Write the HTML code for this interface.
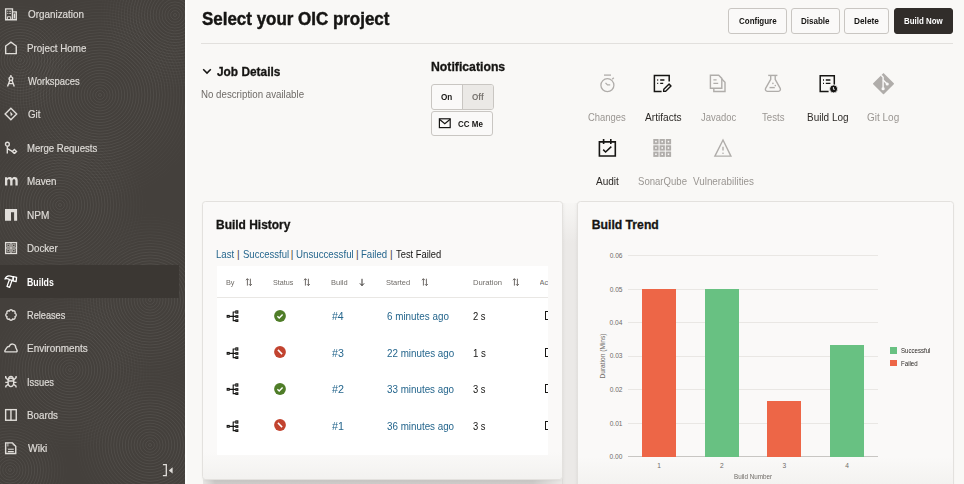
<!DOCTYPE html>
<html><head><meta charset="utf-8"><style>
*{margin:0;padding:0;box-sizing:border-box}
html,body{width:964px;height:484px;overflow:hidden;background:#f9f8f6;font-family:"Liberation Sans", sans-serif}
.t{position:absolute;white-space:nowrap;transform-origin:0 0}
.side{position:absolute;left:0;top:0;width:185px;height:484px;background:#44403c;overflow:hidden}
.btn{position:absolute;border:1px solid #c9c6c2;border-radius:3px;background:#faf9f8}
.card{position:absolute;background:#faf9f8;border:1px solid #e3e1de;border-radius:3.5px;box-shadow:0 1px 2px rgba(0,0,0,0.04)}
</style></head><body>
<div class="side"><svg width="185" height="484" style="position:absolute;left:0;top:0" fill="none" stroke="#ffffff" stroke-opacity="0.085" stroke-width="0.8"><defs><radialGradient id="fg"><stop offset="0.5" stop-color="#fff"/><stop offset="1" stop-color="#000"/></radialGradient><mask id="m0" maskUnits="userSpaceOnUse" x="-10" y="-15" width="220" height="220"><circle cx="100" cy="95" r="110" fill="url(#fg)"/></mask><mask id="m1" maskUnits="userSpaceOnUse" x="95" y="-65" width="160" height="160"><circle cx="175" cy="15" r="80" fill="url(#fg)"/></mask><mask id="m2" maskUnits="userSpaceOnUse" x="-30" y="115" width="180" height="180"><circle cx="60" cy="205" r="90" fill="url(#fg)"/></mask><mask id="m3" maskUnits="userSpaceOnUse" x="60" y="210" width="180" height="180"><circle cx="150" cy="300" r="90" fill="url(#fg)"/></mask><mask id="m4" maskUnits="userSpaceOnUse" x="-15" y="285" width="170" height="170"><circle cx="70" cy="370" r="85" fill="url(#fg)"/></mask><mask id="m5" maskUnits="userSpaceOnUse" x="70" y="365" width="160" height="160"><circle cx="150" cy="445" r="80" fill="url(#fg)"/></mask><mask id="m6" maskUnits="userSpaceOnUse" x="-50" y="410" width="120" height="120"><circle cx="10" cy="470" r="60" fill="url(#fg)"/></mask><mask id="m7" maskUnits="userSpaceOnUse" x="-40" y="0" width="120" height="120"><circle cx="20" cy="60" r="60" fill="url(#fg)"/></mask></defs><g mask="url(#m0)"><circle cx="100" cy="95" r="1.5"/><circle cx="100" cy="95" r="4.4"/><circle cx="100" cy="95" r="7.3"/><circle cx="100" cy="95" r="10.2"/><circle cx="100" cy="95" r="13.1"/><circle cx="100" cy="95" r="16.0"/><circle cx="100" cy="95" r="18.9"/><circle cx="100" cy="95" r="21.8"/><circle cx="100" cy="95" r="24.7"/><circle cx="100" cy="95" r="27.6"/><circle cx="100" cy="95" r="30.5"/><circle cx="100" cy="95" r="33.4"/><circle cx="100" cy="95" r="36.3"/><circle cx="100" cy="95" r="39.2"/><circle cx="100" cy="95" r="42.1"/><circle cx="100" cy="95" r="45.0"/><circle cx="100" cy="95" r="47.9"/><circle cx="100" cy="95" r="50.8"/><circle cx="100" cy="95" r="53.7"/><circle cx="100" cy="95" r="56.6"/><circle cx="100" cy="95" r="59.5"/><circle cx="100" cy="95" r="62.4"/><circle cx="100" cy="95" r="65.3"/><circle cx="100" cy="95" r="68.2"/><circle cx="100" cy="95" r="71.1"/><circle cx="100" cy="95" r="74.0"/><circle cx="100" cy="95" r="76.9"/><circle cx="100" cy="95" r="79.8"/><circle cx="100" cy="95" r="82.7"/><circle cx="100" cy="95" r="85.6"/><circle cx="100" cy="95" r="88.5"/><circle cx="100" cy="95" r="91.4"/><circle cx="100" cy="95" r="94.3"/><circle cx="100" cy="95" r="97.2"/><circle cx="100" cy="95" r="100.1"/><circle cx="100" cy="95" r="103.0"/><circle cx="100" cy="95" r="105.9"/></g><g mask="url(#m1)"><circle cx="175" cy="15" r="1.5"/><circle cx="175" cy="15" r="4.4"/><circle cx="175" cy="15" r="7.3"/><circle cx="175" cy="15" r="10.2"/><circle cx="175" cy="15" r="13.1"/><circle cx="175" cy="15" r="16.0"/><circle cx="175" cy="15" r="18.9"/><circle cx="175" cy="15" r="21.8"/><circle cx="175" cy="15" r="24.7"/><circle cx="175" cy="15" r="27.6"/><circle cx="175" cy="15" r="30.5"/><circle cx="175" cy="15" r="33.4"/><circle cx="175" cy="15" r="36.3"/><circle cx="175" cy="15" r="39.2"/><circle cx="175" cy="15" r="42.1"/><circle cx="175" cy="15" r="45.0"/><circle cx="175" cy="15" r="47.9"/><circle cx="175" cy="15" r="50.8"/><circle cx="175" cy="15" r="53.7"/><circle cx="175" cy="15" r="56.6"/><circle cx="175" cy="15" r="59.5"/><circle cx="175" cy="15" r="62.4"/><circle cx="175" cy="15" r="65.3"/><circle cx="175" cy="15" r="68.2"/><circle cx="175" cy="15" r="71.1"/><circle cx="175" cy="15" r="74.0"/><circle cx="175" cy="15" r="76.9"/></g><g mask="url(#m2)"><circle cx="60" cy="205" r="1.5"/><circle cx="60" cy="205" r="4.4"/><circle cx="60" cy="205" r="7.3"/><circle cx="60" cy="205" r="10.2"/><circle cx="60" cy="205" r="13.1"/><circle cx="60" cy="205" r="16.0"/><circle cx="60" cy="205" r="18.9"/><circle cx="60" cy="205" r="21.8"/><circle cx="60" cy="205" r="24.7"/><circle cx="60" cy="205" r="27.6"/><circle cx="60" cy="205" r="30.5"/><circle cx="60" cy="205" r="33.4"/><circle cx="60" cy="205" r="36.3"/><circle cx="60" cy="205" r="39.2"/><circle cx="60" cy="205" r="42.1"/><circle cx="60" cy="205" r="45.0"/><circle cx="60" cy="205" r="47.9"/><circle cx="60" cy="205" r="50.8"/><circle cx="60" cy="205" r="53.7"/><circle cx="60" cy="205" r="56.6"/><circle cx="60" cy="205" r="59.5"/><circle cx="60" cy="205" r="62.4"/><circle cx="60" cy="205" r="65.3"/><circle cx="60" cy="205" r="68.2"/><circle cx="60" cy="205" r="71.1"/><circle cx="60" cy="205" r="74.0"/><circle cx="60" cy="205" r="76.9"/><circle cx="60" cy="205" r="79.8"/><circle cx="60" cy="205" r="82.7"/><circle cx="60" cy="205" r="85.6"/><circle cx="60" cy="205" r="88.5"/></g><g mask="url(#m3)"><circle cx="150" cy="300" r="1.5"/><circle cx="150" cy="300" r="4.4"/><circle cx="150" cy="300" r="7.3"/><circle cx="150" cy="300" r="10.2"/><circle cx="150" cy="300" r="13.1"/><circle cx="150" cy="300" r="16.0"/><circle cx="150" cy="300" r="18.9"/><circle cx="150" cy="300" r="21.8"/><circle cx="150" cy="300" r="24.7"/><circle cx="150" cy="300" r="27.6"/><circle cx="150" cy="300" r="30.5"/><circle cx="150" cy="300" r="33.4"/><circle cx="150" cy="300" r="36.3"/><circle cx="150" cy="300" r="39.2"/><circle cx="150" cy="300" r="42.1"/><circle cx="150" cy="300" r="45.0"/><circle cx="150" cy="300" r="47.9"/><circle cx="150" cy="300" r="50.8"/><circle cx="150" cy="300" r="53.7"/><circle cx="150" cy="300" r="56.6"/><circle cx="150" cy="300" r="59.5"/><circle cx="150" cy="300" r="62.4"/><circle cx="150" cy="300" r="65.3"/><circle cx="150" cy="300" r="68.2"/><circle cx="150" cy="300" r="71.1"/><circle cx="150" cy="300" r="74.0"/><circle cx="150" cy="300" r="76.9"/><circle cx="150" cy="300" r="79.8"/><circle cx="150" cy="300" r="82.7"/><circle cx="150" cy="300" r="85.6"/><circle cx="150" cy="300" r="88.5"/></g><g mask="url(#m4)"><circle cx="70" cy="370" r="1.5"/><circle cx="70" cy="370" r="4.4"/><circle cx="70" cy="370" r="7.3"/><circle cx="70" cy="370" r="10.2"/><circle cx="70" cy="370" r="13.1"/><circle cx="70" cy="370" r="16.0"/><circle cx="70" cy="370" r="18.9"/><circle cx="70" cy="370" r="21.8"/><circle cx="70" cy="370" r="24.7"/><circle cx="70" cy="370" r="27.6"/><circle cx="70" cy="370" r="30.5"/><circle cx="70" cy="370" r="33.4"/><circle cx="70" cy="370" r="36.3"/><circle cx="70" cy="370" r="39.2"/><circle cx="70" cy="370" r="42.1"/><circle cx="70" cy="370" r="45.0"/><circle cx="70" cy="370" r="47.9"/><circle cx="70" cy="370" r="50.8"/><circle cx="70" cy="370" r="53.7"/><circle cx="70" cy="370" r="56.6"/><circle cx="70" cy="370" r="59.5"/><circle cx="70" cy="370" r="62.4"/><circle cx="70" cy="370" r="65.3"/><circle cx="70" cy="370" r="68.2"/><circle cx="70" cy="370" r="71.1"/><circle cx="70" cy="370" r="74.0"/><circle cx="70" cy="370" r="76.9"/><circle cx="70" cy="370" r="79.8"/><circle cx="70" cy="370" r="82.7"/></g><g mask="url(#m5)"><circle cx="150" cy="445" r="1.5"/><circle cx="150" cy="445" r="4.4"/><circle cx="150" cy="445" r="7.3"/><circle cx="150" cy="445" r="10.2"/><circle cx="150" cy="445" r="13.1"/><circle cx="150" cy="445" r="16.0"/><circle cx="150" cy="445" r="18.9"/><circle cx="150" cy="445" r="21.8"/><circle cx="150" cy="445" r="24.7"/><circle cx="150" cy="445" r="27.6"/><circle cx="150" cy="445" r="30.5"/><circle cx="150" cy="445" r="33.4"/><circle cx="150" cy="445" r="36.3"/><circle cx="150" cy="445" r="39.2"/><circle cx="150" cy="445" r="42.1"/><circle cx="150" cy="445" r="45.0"/><circle cx="150" cy="445" r="47.9"/><circle cx="150" cy="445" r="50.8"/><circle cx="150" cy="445" r="53.7"/><circle cx="150" cy="445" r="56.6"/><circle cx="150" cy="445" r="59.5"/><circle cx="150" cy="445" r="62.4"/><circle cx="150" cy="445" r="65.3"/><circle cx="150" cy="445" r="68.2"/><circle cx="150" cy="445" r="71.1"/><circle cx="150" cy="445" r="74.0"/><circle cx="150" cy="445" r="76.9"/></g><g mask="url(#m6)"><circle cx="10" cy="470" r="1.5"/><circle cx="10" cy="470" r="4.4"/><circle cx="10" cy="470" r="7.3"/><circle cx="10" cy="470" r="10.2"/><circle cx="10" cy="470" r="13.1"/><circle cx="10" cy="470" r="16.0"/><circle cx="10" cy="470" r="18.9"/><circle cx="10" cy="470" r="21.8"/><circle cx="10" cy="470" r="24.7"/><circle cx="10" cy="470" r="27.6"/><circle cx="10" cy="470" r="30.5"/><circle cx="10" cy="470" r="33.4"/><circle cx="10" cy="470" r="36.3"/><circle cx="10" cy="470" r="39.2"/><circle cx="10" cy="470" r="42.1"/><circle cx="10" cy="470" r="45.0"/><circle cx="10" cy="470" r="47.9"/><circle cx="10" cy="470" r="50.8"/><circle cx="10" cy="470" r="53.7"/><circle cx="10" cy="470" r="56.6"/></g><g mask="url(#m7)"><circle cx="20" cy="60" r="1.5"/><circle cx="20" cy="60" r="4.4"/><circle cx="20" cy="60" r="7.3"/><circle cx="20" cy="60" r="10.2"/><circle cx="20" cy="60" r="13.1"/><circle cx="20" cy="60" r="16.0"/><circle cx="20" cy="60" r="18.9"/><circle cx="20" cy="60" r="21.8"/><circle cx="20" cy="60" r="24.7"/><circle cx="20" cy="60" r="27.6"/><circle cx="20" cy="60" r="30.5"/><circle cx="20" cy="60" r="33.4"/><circle cx="20" cy="60" r="36.3"/><circle cx="20" cy="60" r="39.2"/><circle cx="20" cy="60" r="42.1"/><circle cx="20" cy="60" r="45.0"/><circle cx="20" cy="60" r="47.9"/><circle cx="20" cy="60" r="50.8"/><circle cx="20" cy="60" r="53.7"/><circle cx="20" cy="60" r="56.6"/></g></svg></div>
<div style="position:absolute;left:185px;top:0;width:1.5px;height:484px;background:#fdfdfc"></div>
<div style="position:absolute;left:0;top:265px;width:179.2px;height:33px;background:#3b3733"></div>
<div style="position:absolute;left:201px;top:43px;width:752px;height:1px;background:#e2e0dd"></div>
<div class="btn" style="left:728.2px;top:8px;width:58.4px;height:25.8px"></div>
<div class="btn" style="left:791px;top:8px;width:48.5px;height:25.8px"></div>
<div class="btn" style="left:843.9px;top:8px;width:45.1px;height:25.8px"></div>
<div class="btn" style="left:893.8px;top:8px;width:59.4px;height:25.8px;background:#312d2a;border-color:#312d2a"></div>
<div class="btn" style="left:430.8px;top:83.9px;width:62.8px;height:25.9px;overflow:hidden"><div style="position:absolute;left:30.3px;top:0;right:0;bottom:0;background:#ebe9e6;border-left:1px solid #c9c6c2"></div></div>
<div class="btn" style="left:430.8px;top:110.6px;width:61.9px;height:25.8px"></div>
<div style="position:absolute;left:562px;top:203px;width:16px;height:281px;background:linear-gradient(to bottom,#f7f6f4 0px,#ebe9e7 40px,#ebe9e7 100%)"></div>
<div style="position:absolute;left:562px;top:203px;width:16px;height:281px;background:linear-gradient(to right,rgba(0,0,0,0.03),rgba(0,0,0,0) 4px,rgba(0,0,0,0) 12px,rgba(0,0,0,0.03))"></div>
<div style="position:absolute;left:203px;top:478px;width:360px;height:6px;background:linear-gradient(to bottom,#dddbd9,#cac8c6 3px,#cccac8);-webkit-mask-image:linear-gradient(to right,rgba(0,0,0,0.4) 0,#000 12px,#000 330px,rgba(0,0,0,0.3) 360px);mask-image:linear-gradient(to right,rgba(0,0,0,0.4) 0,#000 12px,#000 330px,rgba(0,0,0,0.3) 360px)"></div>
<div class="card" style="left:202px;top:201px;width:361px;height:279px;background:linear-gradient(to bottom,#faf9f8 0,#faf9f8 250px,#f3f2f0 276px)"></div>
<div class="card" style="left:577px;top:201px;width:377px;height:300px;background:linear-gradient(to bottom,#faf9f8 0,#faf9f8 255px,#f3f2f0 283px)"></div>
<div style="position:absolute;left:217px;top:266.2px;width:331.2px;height:189px;background:#fff"></div>
<div style="position:absolute;left:217px;top:296.5px;width:331.2px;height:1px;background:#e9e7e4"></div>
<div style="position:absolute;left:628px;top:255.1px;width:250px;height:1px;background:#e9e7e4"></div>
<div style="position:absolute;left:628px;top:288.6px;width:250px;height:1px;background:#e9e7e4"></div>
<div style="position:absolute;left:628px;top:322.1px;width:250px;height:1px;background:#e9e7e4"></div>
<div style="position:absolute;left:628px;top:355.6px;width:250px;height:1px;background:#e9e7e4"></div>
<div style="position:absolute;left:628px;top:389.1px;width:250px;height:1px;background:#e9e7e4"></div>
<div style="position:absolute;left:628px;top:422.6px;width:250px;height:1px;background:#e9e7e4"></div>
<div style="position:absolute;left:628px;top:456.1px;width:250px;height:1px;background:#c8c6c3"></div>
<div style="position:absolute;left:642.0px;top:289.1px;width:34.3px;height:167.5px;background:#ed6647"></div>
<div style="position:absolute;left:704.6px;top:289.1px;width:34.3px;height:167.5px;background:#68c182"></div>
<div style="position:absolute;left:767.2px;top:400.8px;width:34.3px;height:55.8px;background:#ed6647"></div>
<div style="position:absolute;left:829.8px;top:344.9px;width:34.3px;height:111.7px;background:#68c182"></div>
<div style="position:absolute;left:890.2px;top:347.3px;width:7px;height:6.7px;background:#68c182"></div>
<div style="position:absolute;left:890.2px;top:359.5px;width:7px;height:6.7px;background:#ed6647"></div>
<div class="t" style="left:602.5px;top:356px;font-size:6.6px;line-height:6.6px;color:#6f6b67;transform:translate(-50%,-50%) rotate(-90deg);transform-origin:center">Duration (Mins)</div>
<svg style="position:absolute;left:4px;top:7px;" width="14" height="14" viewBox="0 0 14 14"><g fill="none" stroke="#e0ddd9" stroke-width="1.4"><path d="M1.65 12.8V1.9h6.8v10.9M8.45 4.9h3.8v7.9M1 12.8h12"/><path d="M3.3 4.3h1M5.3 4.3h1.6M3.3 6.4h1M5.3 6.4h1.6M3.4 12.5v-2.7h3.3v2.7" stroke-width="1"/><path d="M10.4 6.5v5"/></g></svg>
<svg style="position:absolute;left:4px;top:41px;" width="14" height="14" viewBox="0 0 14 14"><path fill="none" stroke="#e0ddd9" stroke-width="1.4" d="M1.65 12.6V5.0L6.95 1.2L12.25 5.0V12.6Z"/></svg>
<svg style="position:absolute;left:4px;top:74px;" width="14" height="14" viewBox="0 0 14 14"><g fill="none" stroke="#e0ddd9" stroke-width="1.4"><circle cx="6.9" cy="4.7" r="1.8"/><path d="M6.9 1.0v1.9M5.9 6.3L3.5 12.4M7.9 6.3L10.3 12.4M4.6 9.6h4.6"/></g></svg>
<svg style="position:absolute;left:4px;top:107.4px;" width="14" height="14" viewBox="0 0 14 14"><g fill="none" stroke="#e0ddd9" stroke-width="1.4"><path d="M6.9 1.2L12.7 7L6.9 12.8L1.1 7Z"/></g><path d="M6.2 4.6L8.8 7.2L6.8 9.2Z" fill="#e0ddd9"/></svg>
<svg style="position:absolute;left:4px;top:140px;" width="14" height="14" viewBox="0 0 14 14"><g fill="none" stroke="#e0ddd9" stroke-width="1.4"><circle cx="3.4" cy="4.2" r="1.9"/><path d="M3.3 6.1V13.6M3.8 8.8L8.3 11.3"/><path d="M10.4 9.4L12.5 11.5L10.4 13.6L8.3 11.5Z"/></g></svg>
<svg style="position:absolute;left:4px;top:175px;" width="14" height="12" viewBox="0 0 14 12"><path fill="#e0ddd9" d="M1.0 10.4V2.3h2.2v1.0c0.6-0.8 1.5-1.2 2.5-1.2c1.1 0 1.9 0.5 2.3 1.3c0.6-0.9 1.6-1.3 2.7-1.3c1.9 0 3.0 1.2 3.0 3.3v5.0h-2.3V5.9c0-1.1-0.5-1.7-1.4-1.7c-0.9 0-1.5 0.6-1.5 1.7v4.5H6.2V5.9c0-1.1-0.5-1.7-1.4-1.7c-0.9 0-1.5 0.6-1.5 1.7v4.5Z"/></svg>
<svg style="position:absolute;left:4px;top:207px;" width="14" height="15" viewBox="0 0 14 15"><path fill="#e0ddd9" d="M1 1.9H13.1V13.8H10.1V5.2H7V13.8H1Z"/></svg>
<svg style="position:absolute;left:4px;top:241px;" width="14" height="14" viewBox="0 0 14 14"><g fill="none" stroke="#e0ddd9"><rect x="1.6" y="1.6" width="10.9" height="10.9" stroke-width="1.3"/><path d="M7 1.6V12.5M1.6 7H12.5" stroke-width="1.1"/><path d="M3.2 3.3h2.4v2.2H3.2zM8.5 3.3h2.4v2.2H8.5zM3.2 8.5h2.4v2.2H3.2zM8.5 8.5h2.4v2.2H8.5z" stroke-width="0.6"/></g></svg>
<svg style="position:absolute;left:4px;top:274px;" width="14" height="15" viewBox="0 0 14 15"><g fill="none" stroke="#ffffff" stroke-width="1.3" stroke-linejoin="round"><path d="M1.0 5.0C1.8 2.8 4.0 1.4 6.6 2.1L9.3 2.8L9.0 6.6L7.9 6.4L5.6 5.6C4.0 4.6 2.4 4.5 1.0 5.0Z"/><path d="M9.3 2.6L12.6 3.4L12.1 7.7L9.0 6.8Z"/><path d="M5.4 5.8L3.0 12.4L5.7 13.3L7.9 6.6"/></g></svg>
<svg style="position:absolute;left:3.7px;top:307.9px;" width="14" height="14" viewBox="0 0 14 14"><path fill="none" stroke="#e0ddd9" stroke-width="1.4" stroke-linejoin="round" d="M5.35 3.03A1.7 1.7 0 0 1 8.65 3.03A1.7 1.7 0 0 1 10.97 5.35A1.7 1.7 0 0 1 10.97 8.65A1.7 1.7 0 0 1 8.65 10.97A1.7 1.7 0 0 1 5.35 10.97A1.7 1.7 0 0 1 3.03 8.65A1.7 1.7 0 0 1 3.03 5.35A1.7 1.7 0 0 1 5.35 3.03Z"/></svg>
<svg style="position:absolute;left:4px;top:341px;" width="15" height="14" viewBox="0 0 15 14"><path fill="none" stroke="#e0ddd9" stroke-width="1.4" d="M1.6 10.9C0.9 10.9 0.6 10.2 1.0 9.5L2.8 6.6C3.3 5.7 4.2 5.3 5.2 5.5C5.8 3.8 7.2 2.9 8.7 3.1C10.5 3.3 11.8 4.8 11.8 6.7L13.0 9.3C13.3 10.2 13.0 10.9 12.1 10.9Z"/></svg>
<svg style="position:absolute;left:4px;top:374px;" width="14" height="15" viewBox="0 0 14 15"><g fill="none" stroke="#e0ddd9" stroke-width="1.4"><path d="M6.9 4.0C5.3 4.0 4.1 5.2 4.1 6.8V9.2C4.1 11.0 5.4 12.6 6.9 12.6C8.4 12.6 9.7 11.0 9.7 9.2V6.8C9.7 5.2 8.5 4.0 6.9 4.0Z"/><path d="M4.6 5.3C4.6 3.5 5.6 2.4 6.9 2.4C8.2 2.4 9.2 3.5 9.2 5.3"/><path d="M1.7 2.0V3.6L4.1 6.1M12.1 2.0V3.6L9.7 6.1M1.3 8.4H4.1M12.5 8.4H9.7M1.8 13.6V12.2L4.3 10.3M12.0 13.6V12.2L9.5 10.3M4.1 7.0H9.7"/></g></svg>
<svg style="position:absolute;left:4px;top:408px;" width="14" height="14" viewBox="0 0 14 14"><g fill="none" stroke="#e0ddd9" stroke-width="1.4"><rect x="1.65" y="1.65" width="10.6" height="10.6"/><path d="M6.95 1.65V12.25"/></g></svg>
<svg style="position:absolute;left:4px;top:441px;" width="14" height="14" viewBox="0 0 14 14"><g fill="none" stroke="#e0ddd9" stroke-width="1.4"><path d="M1.65 1.85H8.4L11.75 5.2V12.45H1.65Z"/><path d="M3.9 8.3H9.8M3.9 10.6H9.8" stroke-width="1.1"/><path d="M3.9 1.85V5.5M8.1 2.5L10.9 5.3" stroke-width="0.8"/></g></svg>
<svg style="position:absolute;left:160px;top:462px;" width="16" height="16" viewBox="0 0 16 16"><path fill="none" stroke="#e0ddd9" stroke-width="1.3" d="M2.9 2.7H6.3V13.7H2.9"/><path fill="#e0ddd9" d="M8.8 8.4L12.6 5.2V11.6Z"/></svg>
<svg style="position:absolute;left:598px;top:73px;" width="20" height="20" viewBox="0 0 20 20"><g fill="none" stroke="#b0adaa" stroke-width="1.3"><path d="M6 2.1H13"/><circle cx="9.4" cy="12.2" r="6.5"/><path d="M7.5 9.9L9.5 11.9H12.2"/><path d="M14.2 6.2L15.8 4.7"/></g></svg>
<svg style="position:absolute;left:652px;top:73px;" width="21" height="21" viewBox="0 0 21 21"><g fill="none" stroke="#161513" stroke-width="1.5"><path d="M9.6 18.6H2.4V2.6H17.2V8.5"/><path d="M5.2 7.0h1M8.2 7.0h4.2M5.2 10.4h1M8.2 10.4h3.0" stroke-width="1.3"/><path d="M11.6 18.4L11.8 16.3L17.1 11.0L19.0 12.9L13.7 18.2Z" stroke-width="1.4" stroke-linejoin="round"/></g></svg>
<svg style="position:absolute;left:708px;top:73px;" width="20" height="21" viewBox="0 0 20 21"><g fill="none" stroke="#b0adaa" stroke-width="1.4"><path d="M2.4 2.3H10.7L13.8 5.4V15.3H2.4Z"/><path d="M13.8 6.1L17.0 9.3V18.5H5.8V15.3"/><path d="M5.4 6.9h3.2M5.4 10.4h4.8"/></g></svg>
<svg style="position:absolute;left:763px;top:73px;" width="20" height="21" viewBox="0 0 20 21"><g fill="none" stroke="#b0adaa" stroke-width="1.4" stroke-linejoin="round"><path d="M5.2 2.4H14.4"/><path d="M7.7 2.4V6.4L2.6 15.3C2.0 16.5 2.6 18.4 4.4 18.4H15.4C17.2 18.4 17.8 16.5 17.2 15.3L12.2 6.4V2.4"/><path d="M6.5 14.6H11.8"/></g><circle cx="9.9" cy="10.4" r="0.8" fill="#b0adaa"/><circle cx="12.3" cy="12.6" r="0.8" fill="#b0adaa"/></svg>
<svg style="position:absolute;left:818px;top:73px;" width="20" height="21" viewBox="0 0 20 21"><g fill="none" stroke="#161513" stroke-width="1.5"><path d="M10.6 18.4H2.2V2.7H16.3V11.8"/><path d="M5.0 7.0h1M7.8 7.0h4.6M5.0 10.4h1M7.8 10.4h4.6" stroke-width="1.3"/></g><circle cx="15.6" cy="15.9" r="4.0" fill="#161513" stroke="#faf9f8" stroke-width="0.8"/><path d="M15.4 14.0V16.3H16.8" stroke="#fff" stroke-width="0.9" fill="none"/></svg>
<svg style="position:absolute;left:872px;top:72px;" width="23" height="23" viewBox="0 0 23 23"><path fill="#b0adaa" d="M11.5 1.0L21.8 11.3Q22.3 11.8 21.8 12.3L12.0 22.0Q11.5 22.5 11.0 22.0L1.2 12.2Q0.7 11.7 1.2 11.2Z"/><g stroke="#faf9f8" stroke-width="1.4" fill="none"><path d="M9.2 3.3L11.1 5.2V15.6"/><path d="M11.1 8.0L14.7 11.4"/></g><circle cx="11.1" cy="16.7" r="1.6" fill="#faf9f8"/><circle cx="15.2" cy="12.0" r="1.6" fill="#faf9f8"/></svg>
<svg style="position:absolute;left:597px;top:137px;" width="21" height="22" viewBox="0 0 21 22"><g fill="none" stroke="#161513" stroke-width="1.6"><path d="M2.4 4.9H18.3V19.0H2.4Z"/><path d="M6.6 2.0V6.9M13.8 2.0V6.9"/><path d="M6.2 12.6L8.6 15.0L14.3 9.6" stroke-width="1.5"/></g></svg>
<svg style="position:absolute;left:652px;top:138px;" width="21" height="21" viewBox="0 0 21 21"><rect x="1.30" y="1.00" width="5.3" height="5.3" fill="#b0adaa"/><rect x="3.15" y="2.85" width="1.6" height="1.6" fill="#fbfaf9"/><rect x="7.55" y="1.00" width="5.3" height="5.3" fill="#b0adaa"/><rect x="9.40" y="2.85" width="1.6" height="1.6" fill="#fbfaf9"/><rect x="13.80" y="1.00" width="5.3" height="5.3" fill="#b0adaa"/><rect x="15.65" y="2.85" width="1.6" height="1.6" fill="#fbfaf9"/><rect x="1.30" y="7.30" width="5.3" height="5.3" fill="#b0adaa"/><rect x="3.15" y="9.15" width="1.6" height="1.6" fill="#fbfaf9"/><rect x="7.55" y="7.30" width="5.3" height="5.3" fill="#b0adaa"/><rect x="9.40" y="9.15" width="1.6" height="1.6" fill="#fbfaf9"/><rect x="13.80" y="7.30" width="5.3" height="5.3" fill="#b0adaa"/><rect x="15.65" y="9.15" width="1.6" height="1.6" fill="#fbfaf9"/><rect x="1.30" y="13.60" width="5.3" height="5.3" fill="#b0adaa"/><rect x="3.15" y="15.45" width="1.6" height="1.6" fill="#fbfaf9"/><rect x="7.55" y="13.60" width="5.3" height="5.3" fill="#b0adaa"/><rect x="9.40" y="15.45" width="1.6" height="1.6" fill="#fbfaf9"/><rect x="13.80" y="13.60" width="5.3" height="5.3" fill="#b0adaa"/><rect x="15.65" y="15.45" width="1.6" height="1.6" fill="#fbfaf9"/></svg>
<svg style="position:absolute;left:712px;top:137px;" width="22" height="22" viewBox="0 0 22 22"><path fill="none" stroke="#b0adaa" stroke-width="1.4" stroke-linejoin="miter" d="M11.0 3.0L18.9 19.1H2.9Z"/><path d="M11 9.8V13.6" stroke="#b0adaa" stroke-width="1.4"/><circle cx="11" cy="16.3" r="0.8" fill="#b0adaa"/></svg>
<svg style="position:absolute;left:438px;top:117px;" width="14" height="13" viewBox="0 0 14 13"><g fill="none" stroke="#161513" stroke-width="1.2"><rect x="1.4" y="1.8" width="10.8" height="8.8"/><path d="M1.4 2.2L6.8 6.8L12.2 2.2"/></g></svg>
<svg style="position:absolute;left:201px;top:66px;" width="12" height="10" viewBox="0 0 12 10"><path fill="none" stroke="#161513" stroke-width="1.5" d="M2.2 3.3L6.0 7.1L9.8 3.3"/></svg>
<svg style="position:absolute;left:225.4px;top:308.0px;" width="16" height="16" viewBox="0 0 16 16"><g fill="none" stroke="#161513" stroke-width="1.15"><rect x="2.2" y="7.5" width="2.0" height="1.7"/><rect x="10.9" y="2.9" width="1.9" height="2.2"/><rect x="10.9" y="7.7" width="1.9" height="1.6"/><rect x="10.9" y="11.8" width="1.9" height="1.6"/><path d="M4.2 8.3H10.9M8.2 4.0V12.6M7.7 4.0H10.9M7.7 12.6H10.9"/></g></svg>
<svg style="position:absolute;left:274px;top:309.8px;" width="12" height="12" viewBox="0 0 12 12"><circle cx="6" cy="6" r="5.9" fill="#4f7d28"/><path d="M3.4 6.2L5.2 7.9L8.6 4.4" fill="none" stroke="#fff" stroke-width="1.4"/></svg>
<div style="position:absolute;left:544.6px;top:311.3px;width:3px;height:9px;border:1.2px solid #161513;border-right:none;box-sizing:border-box"></div>
<svg style="position:absolute;left:225.4px;top:344.5px;" width="16" height="16" viewBox="0 0 16 16"><g fill="none" stroke="#161513" stroke-width="1.15"><rect x="2.2" y="7.5" width="2.0" height="1.7"/><rect x="10.9" y="2.9" width="1.9" height="2.2"/><rect x="10.9" y="7.7" width="1.9" height="1.6"/><rect x="10.9" y="11.8" width="1.9" height="1.6"/><path d="M4.2 8.3H10.9M8.2 4.0V12.6M7.7 4.0H10.9M7.7 12.6H10.9"/></g></svg>
<svg style="position:absolute;left:274px;top:346.3px;" width="12" height="12" viewBox="0 0 12 12"><circle cx="6" cy="6" r="5.9" fill="#c2432f"/><path d="M3.9 3.9L8.1 8.1" fill="none" stroke="#fff" stroke-width="1.5"/></svg>
<div style="position:absolute;left:544.6px;top:347.8px;width:3px;height:9px;border:1.2px solid #161513;border-right:none;box-sizing:border-box"></div>
<svg style="position:absolute;left:225.4px;top:381.0px;" width="16" height="16" viewBox="0 0 16 16"><g fill="none" stroke="#161513" stroke-width="1.15"><rect x="2.2" y="7.5" width="2.0" height="1.7"/><rect x="10.9" y="2.9" width="1.9" height="2.2"/><rect x="10.9" y="7.7" width="1.9" height="1.6"/><rect x="10.9" y="11.8" width="1.9" height="1.6"/><path d="M4.2 8.3H10.9M8.2 4.0V12.6M7.7 4.0H10.9M7.7 12.6H10.9"/></g></svg>
<svg style="position:absolute;left:274px;top:382.8px;" width="12" height="12" viewBox="0 0 12 12"><circle cx="6" cy="6" r="5.9" fill="#4f7d28"/><path d="M3.4 6.2L5.2 7.9L8.6 4.4" fill="none" stroke="#fff" stroke-width="1.4"/></svg>
<div style="position:absolute;left:544.6px;top:384.3px;width:3px;height:9px;border:1.2px solid #161513;border-right:none;box-sizing:border-box"></div>
<svg style="position:absolute;left:225.4px;top:417.5px;" width="16" height="16" viewBox="0 0 16 16"><g fill="none" stroke="#161513" stroke-width="1.15"><rect x="2.2" y="7.5" width="2.0" height="1.7"/><rect x="10.9" y="2.9" width="1.9" height="2.2"/><rect x="10.9" y="7.7" width="1.9" height="1.6"/><rect x="10.9" y="11.8" width="1.9" height="1.6"/><path d="M4.2 8.3H10.9M8.2 4.0V12.6M7.7 4.0H10.9M7.7 12.6H10.9"/></g></svg>
<svg style="position:absolute;left:274px;top:419.3px;" width="12" height="12" viewBox="0 0 12 12"><circle cx="6" cy="6" r="5.9" fill="#c2432f"/><path d="M3.9 3.9L8.1 8.1" fill="none" stroke="#fff" stroke-width="1.5"/></svg>
<div style="position:absolute;left:544.6px;top:420.8px;width:3px;height:9px;border:1.2px solid #161513;border-right:none;box-sizing:border-box"></div>
<svg style="position:absolute;left:244.8px;top:276.6px;" width="8" height="10" viewBox="0 0 8 10"><path d="M2.4 8.6V1.7M0.9 3.2L2.4 1.7L3.9 3.2M5.4 1.7V8.6M3.9 7.1L5.4 8.6L6.9 7.1" fill="none" stroke="#57534f" stroke-width="0.85"/></svg>
<svg style="position:absolute;left:303.3px;top:276.6px;" width="8" height="10" viewBox="0 0 8 10"><path d="M2.4 8.6V1.7M0.9 3.2L2.4 1.7L3.9 3.2M5.4 1.7V8.6M3.9 7.1L5.4 8.6L6.9 7.1" fill="none" stroke="#57534f" stroke-width="0.85"/></svg>
<svg style="position:absolute;left:420.6px;top:276.6px;" width="8" height="10" viewBox="0 0 8 10"><path d="M2.4 8.6V1.7M0.9 3.2L2.4 1.7L3.9 3.2M5.4 1.7V8.6M3.9 7.1L5.4 8.6L6.9 7.1" fill="none" stroke="#57534f" stroke-width="0.85"/></svg>
<svg style="position:absolute;left:511.8px;top:276.6px;" width="8" height="10" viewBox="0 0 8 10"><path d="M2.4 8.6V1.7M0.9 3.2L2.4 1.7L3.9 3.2M5.4 1.7V8.6M3.9 7.1L5.4 8.6L6.9 7.1" fill="none" stroke="#57534f" stroke-width="0.85"/></svg>
<svg style="position:absolute;left:357.8px;top:276.6px;" width="8" height="10" viewBox="0 0 8 10"><path d="M4 1.8V8.6M1.9 6.4L4 8.6L6.1 6.4" fill="none" stroke="#2c2926" stroke-width="0.95"/></svg>
<div class="t" style="left:27.61px;top:9.00px;font-size:10.6px;line-height:10.6px;color:#dedbd7;transform:scaleX(0.932);-webkit-text-stroke:0.2px #dedbd7;">Organization</div>
<div class="t" style="left:27.31px;top:43.00px;font-size:10.6px;line-height:10.6px;color:#dedbd7;transform:scaleX(0.926);-webkit-text-stroke:0.2px #dedbd7;">Project Home</div>
<div class="t" style="left:28.01px;top:76.00px;font-size:10.6px;line-height:10.6px;color:#dedbd7;transform:scaleX(0.891);-webkit-text-stroke:0.2px #dedbd7;">Workspaces</div>
<div class="t" style="left:27.62px;top:109.00px;font-size:10.6px;line-height:10.6px;color:#dedbd7;transform:scaleX(0.912);-webkit-text-stroke:0.2px #dedbd7;">Git</div>
<div class="t" style="left:27.33px;top:143.00px;font-size:10.6px;line-height:10.6px;color:#dedbd7;transform:scaleX(0.904);-webkit-text-stroke:0.2px #dedbd7;">Merge Requests</div>
<div class="t" style="left:27.31px;top:176.00px;font-size:10.6px;line-height:10.6px;color:#dedbd7;transform:scaleX(0.930);-webkit-text-stroke:0.2px #dedbd7;">Maven</div>
<div class="t" style="left:27.30px;top:210.00px;font-size:10.6px;line-height:10.6px;color:#dedbd7;transform:scaleX(0.948);-webkit-text-stroke:0.2px #dedbd7;">NPM</div>
<div class="t" style="left:27.32px;top:243.00px;font-size:10.6px;line-height:10.6px;color:#dedbd7;transform:scaleX(0.916);-webkit-text-stroke:0.2px #dedbd7;">Docker</div>
<div class="t" style="left:27.49px;top:277.00px;font-size:10.6px;line-height:10.6px;color:#ffffff;font-weight:700;transform:scaleX(0.828);">Builds</div>
<div class="t" style="left:27.37px;top:310.00px;font-size:10.6px;line-height:10.6px;color:#dedbd7;transform:scaleX(0.867);-webkit-text-stroke:0.2px #dedbd7;">Releases</div>
<div class="t" style="left:27.30px;top:343.00px;font-size:10.6px;line-height:10.6px;color:#dedbd7;transform:scaleX(0.939);-webkit-text-stroke:0.2px #dedbd7;">Environments</div>
<div class="t" style="left:27.26px;top:377.00px;font-size:10.6px;line-height:10.6px;color:#dedbd7;transform:scaleX(0.882);-webkit-text-stroke:0.2px #dedbd7;">Issues</div>
<div class="t" style="left:27.32px;top:410.00px;font-size:10.6px;line-height:10.6px;color:#dedbd7;transform:scaleX(0.922);-webkit-text-stroke:0.2px #dedbd7;">Boards</div>
<div class="t" style="left:28.00px;top:443.00px;font-size:10.6px;line-height:10.6px;color:#dedbd7;transform:scaleX(0.969);-webkit-text-stroke:0.2px #dedbd7;">Wiki</div>
<div class="t" style="left:201.79px;top:11.00px;font-size:17.6px;line-height:17.6px;color:#161513;font-weight:700;transform:scaleX(0.963);-webkit-text-stroke:0.45px #161513;">Select your OIC project</div>
<div class="t" style="left:738.58px;top:17.00px;font-size:8.4px;line-height:8.4px;color:#161513;font-weight:700;transform:scaleX(0.952);">Configure</div>
<div class="t" style="left:800.94px;top:17.00px;font-size:8.4px;line-height:8.4px;color:#161513;font-weight:700;transform:scaleX(0.959);">Disable</div>
<div class="t" style="left:854.32px;top:17.00px;font-size:8.4px;line-height:8.4px;color:#161513;font-weight:700;transform:scaleX(0.989);">Delete</div>
<div class="t" style="left:903.95px;top:17.00px;font-size:8.4px;line-height:8.4px;color:#ffffff;font-weight:700;transform:scaleX(0.943);">Build Now</div>
<div class="t" style="left:217.16px;top:66.00px;font-size:12.2px;line-height:12.2px;color:#161513;font-weight:700;transform:scaleX(0.974);-webkit-text-stroke:0.3px #161513;">Job Details</div>
<div class="t" style="left:201.02px;top:90.00px;font-size:10.2px;line-height:10.2px;color:#6f6b67;transform:scaleX(0.953);">No description available</div>
<div class="t" style="left:430.84px;top:61.00px;font-size:12.2px;line-height:12.2px;color:#161513;font-weight:700;transform:scaleX(1.005);-webkit-text-stroke:0.3px #161513;">Notifications</div>
<div class="t" style="left:441.37px;top:93.00px;font-size:8.6px;line-height:8.6px;color:#161513;font-weight:700;transform:scaleX(0.946);">On</div>
<div class="t" style="left:472.17px;top:93.00px;font-size:8.6px;line-height:8.6px;color:#77736f;font-weight:700;transform:scaleX(0.947);">Off</div>
<div class="t" style="left:457.68px;top:120.00px;font-size:8.6px;line-height:8.6px;color:#161513;font-weight:700;transform:scaleX(0.929);">CC Me</div>
<div class="t" style="left:588.33px;top:113.00px;font-size:10.3px;line-height:10.3px;color:#9a9692;transform:scaleX(0.916);">Changes</div>
<div class="t" style="left:644.50px;top:113.00px;font-size:10.3px;line-height:10.3px;color:#2c2926;transform:scaleX(0.984);">Artifacts</div>
<div class="t" style="left:700.51px;top:113.00px;font-size:10.3px;line-height:10.3px;color:#9a9692;transform:scaleX(0.915);">Javadoc</div>
<div class="t" style="left:761.81px;top:113.00px;font-size:10.3px;line-height:10.3px;color:#9a9692;transform:scaleX(0.937);">Tests</div>
<div class="t" style="left:807.10px;top:113.00px;font-size:10.3px;line-height:10.3px;color:#2c2926;transform:scaleX(0.968);">Build Log</div>
<div class="t" style="left:867.10px;top:113.00px;font-size:10.3px;line-height:10.3px;color:#9a9692;transform:scaleX(0.971);">Git Log</div>
<div class="t" style="left:596.00px;top:177.00px;font-size:10.3px;line-height:10.3px;color:#2c2926;transform:scaleX(0.975);">Audit</div>
<div class="t" style="left:638.22px;top:177.00px;font-size:10.3px;line-height:10.3px;color:#9a9692;transform:scaleX(0.930);">SonarQube</div>
<div class="t" style="left:692.90px;top:177.00px;font-size:10.3px;line-height:10.3px;color:#9a9692;transform:scaleX(0.957);">Vulnerabilities</div>
<div class="t" style="left:216.16px;top:219.00px;font-size:12.2px;line-height:12.2px;color:#161513;font-weight:700;transform:scaleX(0.981);-webkit-text-stroke:0.3px #161513;">Build History</div>
<div class="t" style="left:216.23px;top:250.00px;font-size:10.2px;line-height:10.2px;color:#25668d;transform:scaleX(0.948);">Last</div>
<div class="t" style="left:236.98px;top:250.00px;font-size:10.2px;line-height:10.2px;color:#4a4541;">|</div>
<div class="t" style="left:242.62px;top:250.00px;font-size:10.2px;line-height:10.2px;color:#25668d;transform:scaleX(0.937);">Successful</div>
<div class="t" style="left:290.78px;top:250.00px;font-size:10.2px;line-height:10.2px;color:#4a4541;">|</div>
<div class="t" style="left:296.22px;top:250.00px;font-size:10.2px;line-height:10.2px;color:#25668d;transform:scaleX(0.952);">Unsuccessful</div>
<div class="t" style="left:355.88px;top:250.00px;font-size:10.2px;line-height:10.2px;color:#4a4541;">|</div>
<div class="t" style="left:361.33px;top:250.00px;font-size:10.2px;line-height:10.2px;color:#25668d;transform:scaleX(0.942);">Failed</div>
<div class="t" style="left:389.88px;top:250.00px;font-size:10.2px;line-height:10.2px;color:#4a4541;">|</div>
<div class="t" style="left:395.81px;top:250.00px;font-size:10.2px;line-height:10.2px;color:#161513;transform:scaleX(0.918);">Test Failed</div>
<div class="t" style="left:225.51px;top:279.00px;font-size:7.4px;line-height:7.4px;color:#6f6b67;transform:scaleX(0.988);">By</div>
<div class="t" style="left:272.84px;top:279.00px;font-size:7.4px;line-height:7.4px;color:#6f6b67;transform:scaleX(0.973);">Status</div>
<div class="t" style="left:331.40px;top:279.00px;font-size:7.4px;line-height:7.4px;color:#6f6b67;transform:scaleX(1.014);">Build</div>
<div class="t" style="left:386.33px;top:279.00px;font-size:7.4px;line-height:7.4px;color:#6f6b67;transform:scaleX(1.012);">Started</div>
<div class="t" style="left:472.89px;top:279.00px;font-size:7.4px;line-height:7.4px;color:#6f6b67;transform:scaleX(1.035);">Duration</div>
<div class="t" style="left:539.60px;top:279.00px;font-size:7.4px;line-height:7.4px;color:#6f6b67;width:8.6px;overflow:hidden;">Actions</div>
<div class="t" style="left:332.30px;top:312.00px;font-size:10.0px;line-height:10.0px;color:#25668d;transform:scaleX(1.056);">#4</div>
<div class="t" style="left:386.51px;top:312.00px;font-size:10.0px;line-height:10.0px;color:#25668d;transform:scaleX(0.985);">6 minutes ago</div>
<div class="t" style="left:472.83px;top:312.00px;font-size:10.0px;line-height:10.0px;color:#161513;transform:scaleX(0.944);">2 s</div>
<div class="t" style="left:332.30px;top:349.00px;font-size:10.0px;line-height:10.0px;color:#25668d;transform:scaleX(1.065);">#3</div>
<div class="t" style="left:386.51px;top:349.00px;font-size:10.0px;line-height:10.0px;color:#25668d;transform:scaleX(0.982);">22 minutes ago</div>
<div class="t" style="left:472.53px;top:349.00px;font-size:10.0px;line-height:10.0px;color:#161513;transform:scaleX(0.967);">1 s</div>
<div class="t" style="left:332.30px;top:385.00px;font-size:10.0px;line-height:10.0px;color:#25668d;transform:scaleX(1.075);">#2</div>
<div class="t" style="left:386.61px;top:385.00px;font-size:10.0px;line-height:10.0px;color:#25668d;transform:scaleX(0.981);">33 minutes ago</div>
<div class="t" style="left:472.93px;top:385.00px;font-size:10.0px;line-height:10.0px;color:#161513;transform:scaleX(0.937);">3 s</div>
<div class="t" style="left:332.30px;top:422.00px;font-size:10.0px;line-height:10.0px;color:#25668d;transform:scaleX(1.075);">#1</div>
<div class="t" style="left:386.61px;top:422.00px;font-size:10.0px;line-height:10.0px;color:#25668d;transform:scaleX(0.981);">36 minutes ago</div>
<div class="t" style="left:472.93px;top:422.00px;font-size:10.0px;line-height:10.0px;color:#161513;transform:scaleX(0.937);">3 s</div>
<div class="t" style="left:591.75px;top:219.00px;font-size:12.2px;line-height:12.2px;color:#161513;font-weight:700;-webkit-text-stroke:0.3px #161513;">Build Trend</div>
<div class="t" style="left:609.66px;top:253.00px;font-size:6.6px;line-height:6.6px;color:#6f6b67;">0.06</div>
<div class="t" style="left:609.66px;top:287.00px;font-size:6.6px;line-height:6.6px;color:#6f6b67;">0.05</div>
<div class="t" style="left:609.53px;top:320.00px;font-size:6.6px;line-height:6.6px;color:#6f6b67;">0.04</div>
<div class="t" style="left:609.66px;top:353.00px;font-size:6.6px;line-height:6.6px;color:#6f6b67;">0.03</div>
<div class="t" style="left:609.66px;top:387.00px;font-size:6.6px;line-height:6.6px;color:#6f6b67;">0.02</div>
<div class="t" style="left:609.66px;top:421.00px;font-size:6.6px;line-height:6.6px;color:#6f6b67;">0.01</div>
<div class="t" style="left:609.59px;top:454.00px;font-size:6.6px;line-height:6.6px;color:#6f6b67;">0.00</div>
<div class="t" style="left:657.25px;top:463.00px;font-size:6.6px;line-height:6.6px;color:#6f6b67;">1</div>
<div class="t" style="left:719.95px;top:463.00px;font-size:6.6px;line-height:6.6px;color:#6f6b67;">2</div>
<div class="t" style="left:782.58px;top:463.00px;font-size:6.6px;line-height:6.6px;color:#6f6b67;">3</div>
<div class="t" style="left:845.19px;top:463.00px;font-size:6.6px;line-height:6.6px;color:#6f6b67;">4</div>
<div class="t" style="left:734.10px;top:474.00px;font-size:6.8px;line-height:6.8px;color:#6f6b67;transform:scaleX(0.923);">Build Number</div>
<div class="t" style="left:900.90px;top:348.00px;font-size:6.8px;line-height:6.8px;color:#2c2926;transform:scaleX(0.894);">Successful</div>
<div class="t" style="left:900.71px;top:361.00px;font-size:6.8px;line-height:6.8px;color:#2c2926;transform:scaleX(0.901);">Failed</div>
</body></html>
